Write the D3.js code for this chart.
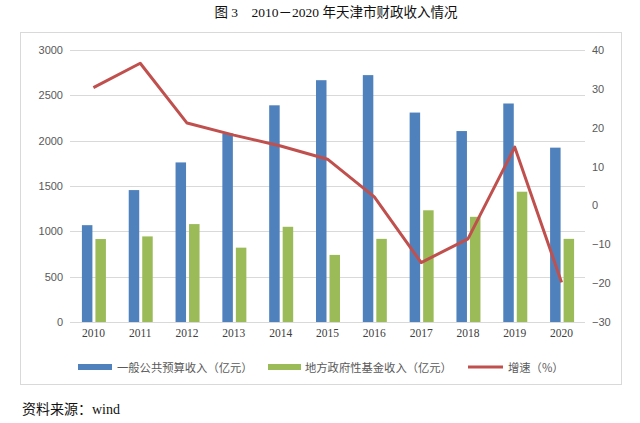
<!DOCTYPE html>
<html><head><meta charset="utf-8">
<script src="https://cdn.jsdelivr.net/npm/d3@7"></script>
<style>body{margin:0;background:#fff;} svg{display:block;}</style>
</head><body>
<script>
const years = ["2010","2011","2012","2013","2014","2015","2016","2017","2018","2019","2020"];
const budgetRevenue = [1068, 1455, 1760, 2079, 2390, 2667, 2723, 2310, 2106, 2410, 1923];
const fundRevenue = [915, 944, 1080, 820, 1050, 740, 917, 1232, 1160, 1437, 917];
const growthRate = [30.3, 36.6, 21.2, 18.1, 15.3, 11.9, 2.2, -14.7, -8.6, 15.0, -19.8];
const leftTicks = [0, 500, 1000, 1500, 2000, 2500, 3000];
const rightTicks = [-30, -20, -10, 0, 10, 20, 30, 40];
const seriesNames = ["一般公共预算收入（亿元）", "地方政府性基金收入（亿元）", "增速（%）"];
const colors = ["#4f81bd", "#9bbb59", "#c0504d"];

const W = 640, H = 423;
const svg = d3.select("body").append("svg").attr("width", W).attr("height", H);

svg.append("text").attr("x", 336).attr("y", 17).attr("text-anchor", "middle")
  .attr("font-family", "'Liberation Serif','Noto Sans CJK SC',serif").attr("font-size", 13.5).attr("fill", "#111")
  .text("图 3　2010－2020 年天津市财政收入情况");

svg.append("rect").attr("x", 20.5).attr("y", 32.5).attr("width", 601).attr("height", 352)
  .attr("fill", "#fff").attr("stroke", "#d9d9d9");

const x = d3.scaleBand().domain(years).range([70, 585]);
const yL = d3.scaleLinear().domain([0, 3000]).range([322, 50]);
const yR = d3.scaleLinear().domain([-30, 40]).range([322, 50]);

// gridlines
svg.append("g").selectAll("line").data(leftTicks).join("line")
  .attr("x1", 70).attr("x2", 585).attr("y1", d => Math.round(yL(d)) + 0.5).attr("y2", d => Math.round(yL(d)) + 0.5)
  .attr("stroke", "#d9d9d9").attr("stroke-width", 1);

const lAxis = svg.append("g").attr("transform", "translate(63,0)")
  .call(d3.axisLeft(yL).tickValues(leftTicks).tickFormat(d3.format("d")).tickSize(0).tickPadding(0));
lAxis.select(".domain").remove();
lAxis.selectAll("text").attr("font-family", "'Liberation Sans',Arial,sans-serif").attr("font-size", 11).attr("fill", "#595959");

const rAxis = svg.append("g").attr("transform", "translate(592,0)")
  .call(d3.axisRight(yR).tickValues(rightTicks).tickFormat(d3.format("d")).tickSize(0).tickPadding(0));
rAxis.select(".domain").remove();
rAxis.selectAll("text").attr("font-family", "'Liberation Sans',Arial,sans-serif").attr("font-size", 11).attr("fill", "#595959");

const xAxis = svg.append("g").attr("transform", "translate(0,329)")
  .call(d3.axisBottom(x).tickSize(0).tickPadding(0));
xAxis.select(".domain").remove();
xAxis.selectAll("text").attr("font-family", "'Liberation Serif','Times New Roman',serif").attr("font-size", 11.5).attr("fill", "#404040");

const bw = 10.5;
const cx = d => x(d) + x.bandwidth() / 2;
svg.append("g").selectAll("rect").data(years).join("rect")
  .attr("x", (d) => cx(d) - bw - 1).attr("width", bw)
  .attr("y", (d, i) => yL(budgetRevenue[i])).attr("height", (d, i) => yL(0) - yL(budgetRevenue[i]))
  .attr("fill", colors[0]);
svg.append("g").selectAll("rect").data(years).join("rect")
  .attr("x", (d) => cx(d) + 2).attr("width", bw)
  .attr("y", (d, i) => yL(fundRevenue[i])).attr("height", (d, i) => yL(0) - yL(fundRevenue[i]))
  .attr("fill", colors[1]);

const line = d3.line().x((d, i) => cx(years[i])).y(d => yR(d));
svg.append("path").datum(growthRate).attr("d", line)
  .attr("fill", "none").attr("stroke", colors[2]).attr("stroke-width", 3).attr("stroke-linejoin", "round");

// legend
const lg = svg.append("g").attr("font-family", "'Noto Sans CJK SC',sans-serif").attr("font-size", 11.3).attr("fill", "#595959");
const legendX = [78, 268, 468];
const textX = [117, 305, 508];
lg.append("rect").attr("x", legendX[0]).attr("y", 364).attr("width", 34).attr("height", 6).attr("fill", colors[0]);
lg.append("rect").attr("x", legendX[1]).attr("y", 364).attr("width", 33).attr("height", 6).attr("fill", colors[1]);
lg.append("line").attr("x1", legendX[2]).attr("x2", legendX[2] + 35).attr("y1", 367).attr("y2", 367).attr("stroke", colors[2]).attr("stroke-width", 3);
seriesNames.forEach((n, i) => {
  lg.append("text").attr("x", textX[i]).attr("y", 371.5).attr("fill", "#595959").text(n);
});

svg.append("text").attr("x", 22).attr("y", 414)
  .attr("font-family", "'Liberation Serif','Noto Sans CJK SC',serif").attr("font-size", 14).attr("fill", "#111")
  .text("资料来源：wind");
</script>
</body></html>
